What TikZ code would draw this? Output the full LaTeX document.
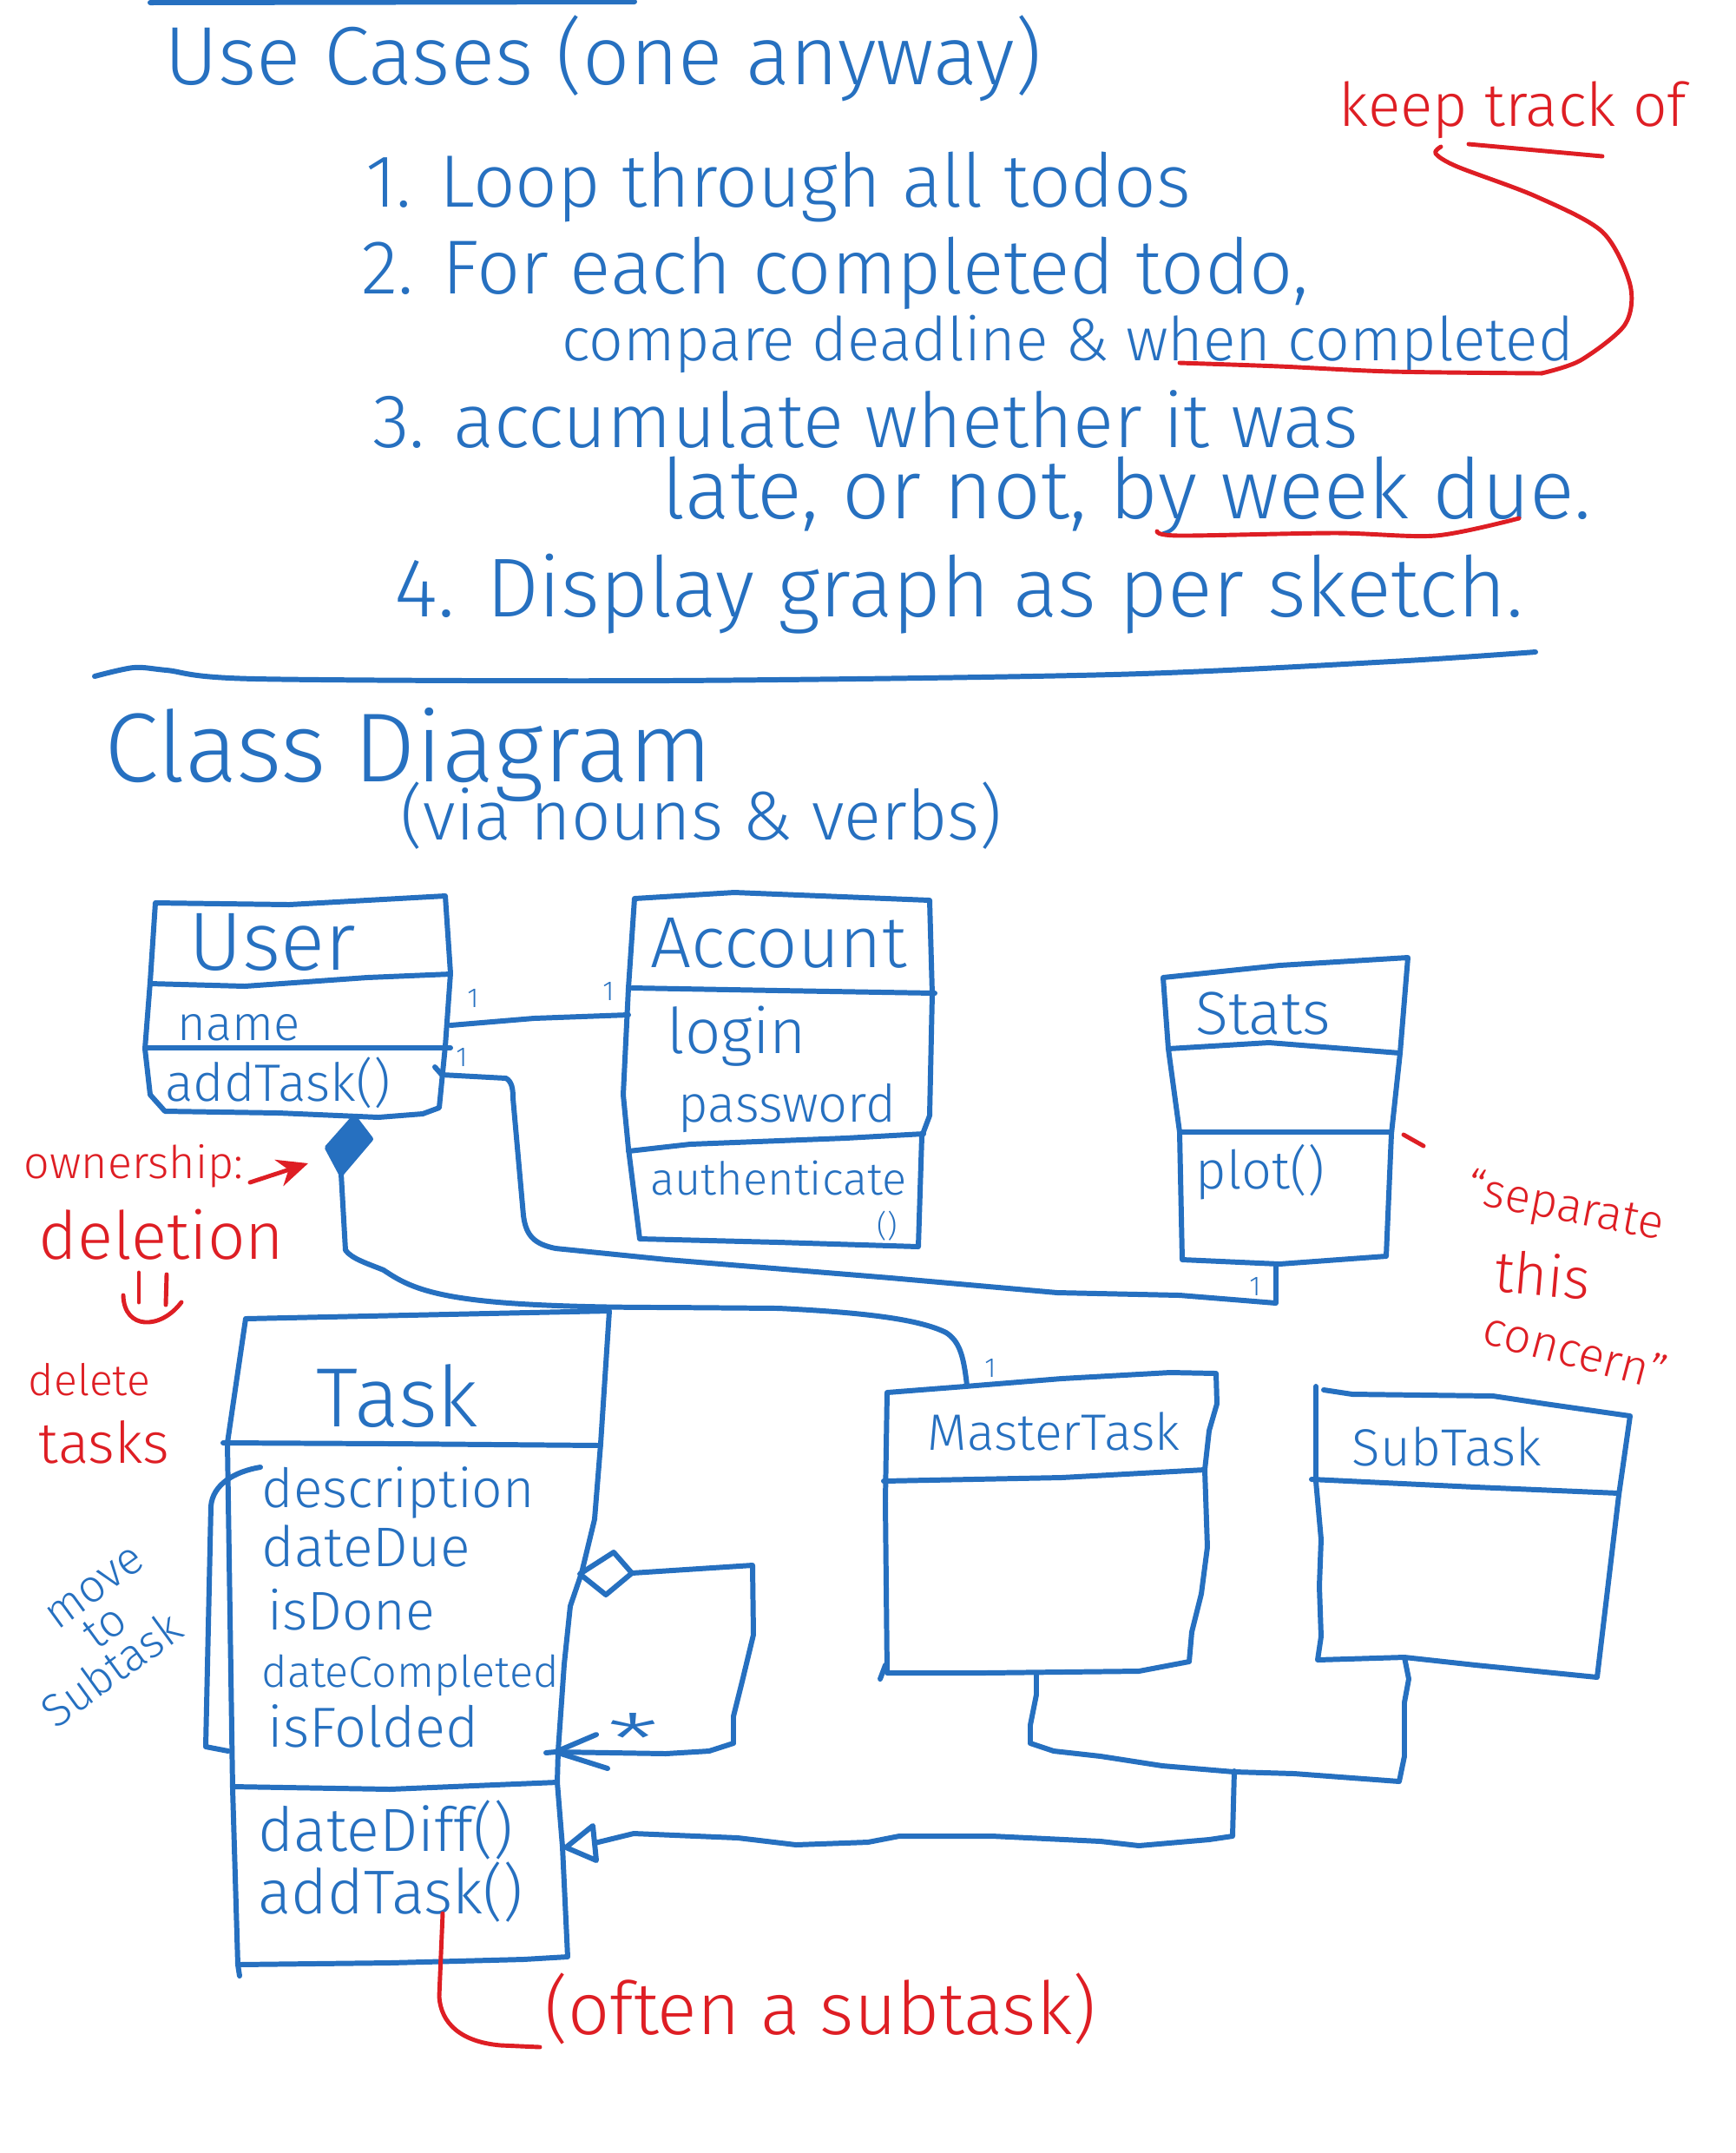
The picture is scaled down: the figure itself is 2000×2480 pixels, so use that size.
\documentclass[tikz,border=0pt]{standalone}
\usepackage{fontspec}
\setmainfont{Fira Sans Light}
\usepackage{graphicx}
\usetikzlibrary{arrows.meta}
\definecolor{pblue}{RGB}{38,112,192}
\definecolor{pred}{RGB}{222,30,36}
\newcommand{\hw}[2]{\resizebox{#1cm}{!}{#2}}
\tikzset{
  pen/.style={draw=pblue, line width=1.7pt, line cap=round, line join=round},
  rpen/.style={draw=pred, line width=1.4pt, line cap=round, line join=round},
  btxt/.style={inner sep=0pt, text=pblue, anchor=base},
  rtxt/.style={inner sep=0pt, text=pred, anchor=base},
  mult/.style={inner sep=0pt, text=pblue, font=\fontsize{9}{9}\selectfont},
}
\begin{document}
\begin{tikzpicture}[x=0.01cm,y=-0.01cm]
\useasboundingbox (0,0) rectangle (2000,2480);
\fill[white] (0,0) rectangle (2000,2480);

% ---------- use cases ----------
\draw[pen] (173,3) -- (731,2);
\node[btxt] (uc) at (695,97) {\hw{10.1}{Use Cases (one anyway)}};
\node[rtxt] (keep) at (1743,145) {\hw{4.0}{keep track of}};
\node[btxt] (l1) at (897,238) {\hw{9.5}{1. Loop through all todos}};
\node[btxt] (l2) at (962,338) {\hw{10.9}{2. For each completed todo,}};
\node[btxt] (l2b) at (1230,415) {\hw{11.65}{compare deadline \& when completed}};
\node[btxt] (l3) at (997,515) {\hw{11.35}{3. accumulate whether it was}};
\node[btxt] (l3b) at (1298,597) {\hw{10.7}{late, or not, by week due.}};
\node[btxt] (l4) at (1105,710) {\hw{13.0}{4. Display graph as per sketch.}};

\draw[rpen] (1692,166) -- (1846,180);
\draw[rpen] plot[smooth] coordinates {(1660,169) (1654,177) (1679,192) (1769,226) (1846,267) (1878,328) (1872,374) (1821,415) (1776,430)};
\draw[rpen] plot[smooth] coordinates {(1359,418) (1474,422) (1603,428) (1776,430)};
\draw[rpen] plot[smooth] coordinates {(1333,612) (1359,617) (1538,614) (1654,617) (1750,597)};

\draw[pen] plot[smooth] coordinates {(109,779) (154,769) (192,772) (295,782) (769,784) (1282,777) (1603,762) (1769,751)};

% ---------- class diagram title ----------
\node[btxt] (cd) at (471,900) {\hw{7.0}{Class Diagram}};
\node[btxt] (cd2) at (808,967) {\hw{6.92}{(via nouns \& verbs)}};

% ---------- User ----------
\draw[pen] (179,1040) -- (333,1042) -- (513,1032) -- (519,1121) -- (513,1205) -- (506,1276) -- (487,1283) -- (436,1287) -- (321,1282) -- (190,1280) -- (173,1261) -- (167,1208) -- (173,1131) -- cycle;
\draw[pen] (173,1133) -- (282,1136) -- (423,1126) -- (519,1122);
\draw[pen] (167,1207) -- (519,1207);
\node[btxt] (uname) at (314,1117) {\hw{1.92}{User}};
\node[btxt] (uattr) at (275,1198) {\hw{1.41}{name}};
\node[btxt] (umeth) at (320,1268) {\hw{2.59}{addTask()}};

% ---------- Account ----------
\draw[pen] (731,1035) -- (846,1028) -- (1071,1037) -- (1074,1145) -- (1071,1285) -- (1062,1309) -- (1058,1436) -- (897,1431) -- (737,1427) -- (724,1323) -- (718,1261) -- (724,1138) -- cycle;
\draw[pen] (728,1138) -- (897,1141) -- (1077,1144);
\draw[pen] (724,1326) -- (795,1318) -- (974,1311) -- (1064,1306);
\node[btxt] (aname) at (897,1114) {\hw{2.95}{Account}};
\node[btxt] (alogin) at (849,1213) {\hw{1.6}{login}};
\node[btxt] (apass) at (907,1292) {\hw{2.5}{password}};
\node[btxt] (aauth) at (897,1376) {\hw{2.95}{authenticate}};
\node[inner sep=0pt, text=pblue, font=\fontsize{10}{10}\selectfont] (aparen) at (1022,1412) {()};

% ---------- Stats ----------
\draw[pen] (1340,1126) -- (1474,1112) -- (1622,1103) -- (1613,1213) -- (1603,1306) -- (1597,1447) -- (1474,1456) -- (1362,1451) -- (1359,1304) -- (1346,1208) -- cycle;
\draw[pen] (1346,1208) -- (1462,1201) -- (1613,1213);
\draw[pen] (1359,1304) -- (1603,1304);
\node[btxt] (sname) at (1455,1191) {\hw{1.55}{Stats}};
\node[btxt] (smeth) at (1452,1369) {\hw{1.48}{plot()}};

% ---------- Task ----------
\draw[pen] (283,1519) -- (702,1510) -- (692,1663) -- (685,1750) -- (670,1812) -- (657,1850) -- (650,1917) -- (643,2017) -- (642,2053) -- (648,2127) -- (654,2254) -- (603,2257) -- (449,2261) -- (274,2263) -- (268,2060) -- (262,1662) -- cycle;
\draw[pen] (274,2263) -- (276,2276);
\draw[pen] (257,1662) -- (450,1663) -- (692,1665);
\draw[pen] (268,2058) -- (449,2061) -- (642,2053);
\node[btxt] (tname) at (458,1643) {\hw{1.86}{Task}};
\node[btxt,anchor=base west] (t1) at (301,1736) {\hw{3.14}{description}};
\node[btxt,anchor=base west] (t2) at (301,1804) {\hw{2.4}{dateDue}};
\node[btxt,anchor=base west] (t3) at (308,1877) {\hw{1.92}{isDone}};
\node[btxt,anchor=base west] (t4) at (301,1943) {\hw{3.42}{dateCompleted}};
\node[btxt,anchor=base west] (t5) at (308,2012) {\hw{2.43}{isFolded}};
\node[btxt,anchor=base west] (t6) at (297,2132) {\hw{2.93}{dateDiff()}};
\node[btxt,anchor=base west] (t7) at (297,2204) {\hw{3.05}{addTask()}};

% ---------- MasterTask ----------
\draw[pen] (1022,1604) -- (1112,1597) -- (1223,1588) -- (1348,1581) -- (1401,1582) -- (1402,1617) -- (1393,1648) -- (1388,1693) -- (1391,1782) -- (1384,1836) -- (1373,1880) -- (1370,1914) -- (1312,1925) -- (1134,1927) -- (1022,1927) -- (1020,1729) -- cycle;
\draw[pen] (1020,1918) -- (1014,1934);
\draw[pen] (1018,1706) -- (1223,1702) -- (1388,1693);
\node[btxt] (mname) at (1214,1670) {\hw{2.9}{MasterTask}};

% ---------- SubTask ----------
\draw[pen] (1525,1601) -- (1558,1606) -- (1720,1608) -- (1780,1617) -- (1878,1631) -- (1865,1722) -- (1840,1932) -- (1700,1918) -- (1618,1909) -- (1518,1912) -- (1522,1885) -- (1520,1827) -- (1522,1773) -- (1516,1706) -- (1516,1597);
\draw[pen] (1511,1704) -- (1700,1713) -- (1865,1720);
\node[btxt] (stname) at (1667,1688) {\hw{2.18}{SubTask}};

% ---------- connectors ----------
\coordinate (uA) at (519,1181);
\coordinate (aU) at (724,1169);
\draw[pen] (uA) -- (615,1173) -- (aU);

\coordinate (uS) at (501,1229);
\coordinate (sU) at (1470,1456);
\draw[pen] (uS) -- (509,1238) -- (583,1242) .. controls (590,1246) and (591,1255) .. (591,1265) -- (603,1400) .. controls (606,1424) and (616,1433) .. (640,1438) -- (769,1451) -- (1026,1472) -- (1218,1489) -- (1359,1492) -- (1470,1501) -- (sU);

\coordinate (dT) at (408,1287);
\coordinate (dR) at (427,1312);
\coordinate (dB) at (393,1352);
\coordinate (dL) at (377,1322);
\filldraw[pen, fill=pblue] (dT) -- (dR) -- (dB) -- (dL) -- cycle;
\coordinate (mT) at (1114,1596);
\draw[pen] (dB) -- (398,1440) .. controls (405,1450) and (425,1456) .. (442,1463) .. controls (460,1475) and (480,1488) .. (538,1496) .. controls (580,1502) and (650,1506) .. (769,1506) -- (897,1507) .. controls (1000,1512) and (1060,1520) .. (1090,1535) .. controls (1105,1545) and (1110,1560) .. (mT);

\coordinate (hL) at (668,1813);
\coordinate (hT) at (707,1788);
\coordinate (hR) at (728,1812);
\coordinate (hB) at (698,1837);
\filldraw[pen, fill=white] (hL) -- (hT) -- (hR) -- (hB) -- cycle;
\coordinate (tA) at (640,2018);
\draw[pen] (hR) -- (867,1803) -- (868,1883) -- (855,1937) -- (845,1977) -- (845,2008) -- (817,2017) -- (767,2020) -- (tA) -- (629,2019);
\draw[pen] (687,1998) -- (tA) -- (700,2037);
\node[inner sep=0pt, text=pblue] (star) at (730,2003) {\resizebox{0.6cm}{0.6cm}{*}};

\coordinate (mB) at (1194,1927);
\coordinate (sB) at (1618,1909);
\draw[pen] (mB) -- (1194,1952) -- (1187,1987) -- (1187,2008) -- (1214,2017) -- (1268,2023) -- (1339,2034) -- (1422,2041) -- (1491,2043) -- (1612,2052) -- (1618,2023) -- (1618,1961) -- (1623,1934) -- (sB);
\coordinate (gJ) at (1422,2040);
\coordinate (tG) at (652,2128);
\draw[pen] (gJ) -- (1420,2115) -- (1393,2119) -- (1312,2126) -- (1268,2121) -- (1143,2115) -- (1036,2115) -- (1000,2122) -- (917,2125) -- (850,2117) -- (730,2112) -- (685,2123);
\filldraw[pen, fill=white] (tG) -- (683,2103) -- (687,2143) -- cycle;

% multiplicities
\node[mult] (m1) at (545,1150) {1};
\node[mult] (m2) at (701,1142) {1};
\node[mult] (m3) at (532,1218) {1};
\node[mult] (m4) at (1446,1482) {1};
\node[mult] (m5) at (1141,1576) {1};

% bracket and note
\draw[pen] (300,1690) .. controls (270,1695) and (245,1710) .. (243,1735) -- (237,2012) -- (263,2017);
\node[text=pblue, inner sep=0pt, rotate=36, align=center, font=\fontsize{15}{13}\selectfont] (mts) at (104,1890) {\hspace*{23pt}move\\\hspace*{13pt}to\\Subtask};

% ---------- red notes ----------
\node[rtxt] (own) at (154,1357) {\hw{2.52}{ownership:}};
\coordinate (owA) at (288,1362);
\coordinate (owB) at (355,1340);
\draw[rpen, -{Stealth[length=10pt,width=9pt]}] (owA) -- (owB);
\node[rtxt] (del) at (186,1450) {\hw{2.83}{deletion}};
\draw[rpen] (160,1466) -- (160,1500);
\draw[rpen] (192,1468) -- (191,1503);
\draw[rpen] (142,1492) .. controls (143,1532) and (185,1532) .. (209,1500);
\node[rtxt] (delt) at (103,1607) {\hw{1.4}{delete}};
\node[rtxt] (tasks) at (120,1685) {\hw{1.5}{tasks}};

\draw[rpen] (1617,1307) -- (1640,1320);
\node[text=pred, inner sep=0pt, rotate=-11] (sep) at (1803,1392) {\hw{2.3}{“separate}};
\node[text=pred, inner sep=0pt, rotate=-5] (this) at (1777,1468) {\hw{1.1}{this}};
\node[text=pred, inner sep=0pt, rotate=-15] (conc) at (1815,1555) {\hw{2.15}{concern”}};

\coordinate (oA) at (510,2204);
\draw[rpen] (oA) -- (506,2300) .. controls (508,2330) and (530,2352) .. (577,2356) -- (622,2358);
\node[rtxt] (often) at (945,2343) {\hw{6.35}{(often a subtask)}};
\end{tikzpicture}
\end{document}
